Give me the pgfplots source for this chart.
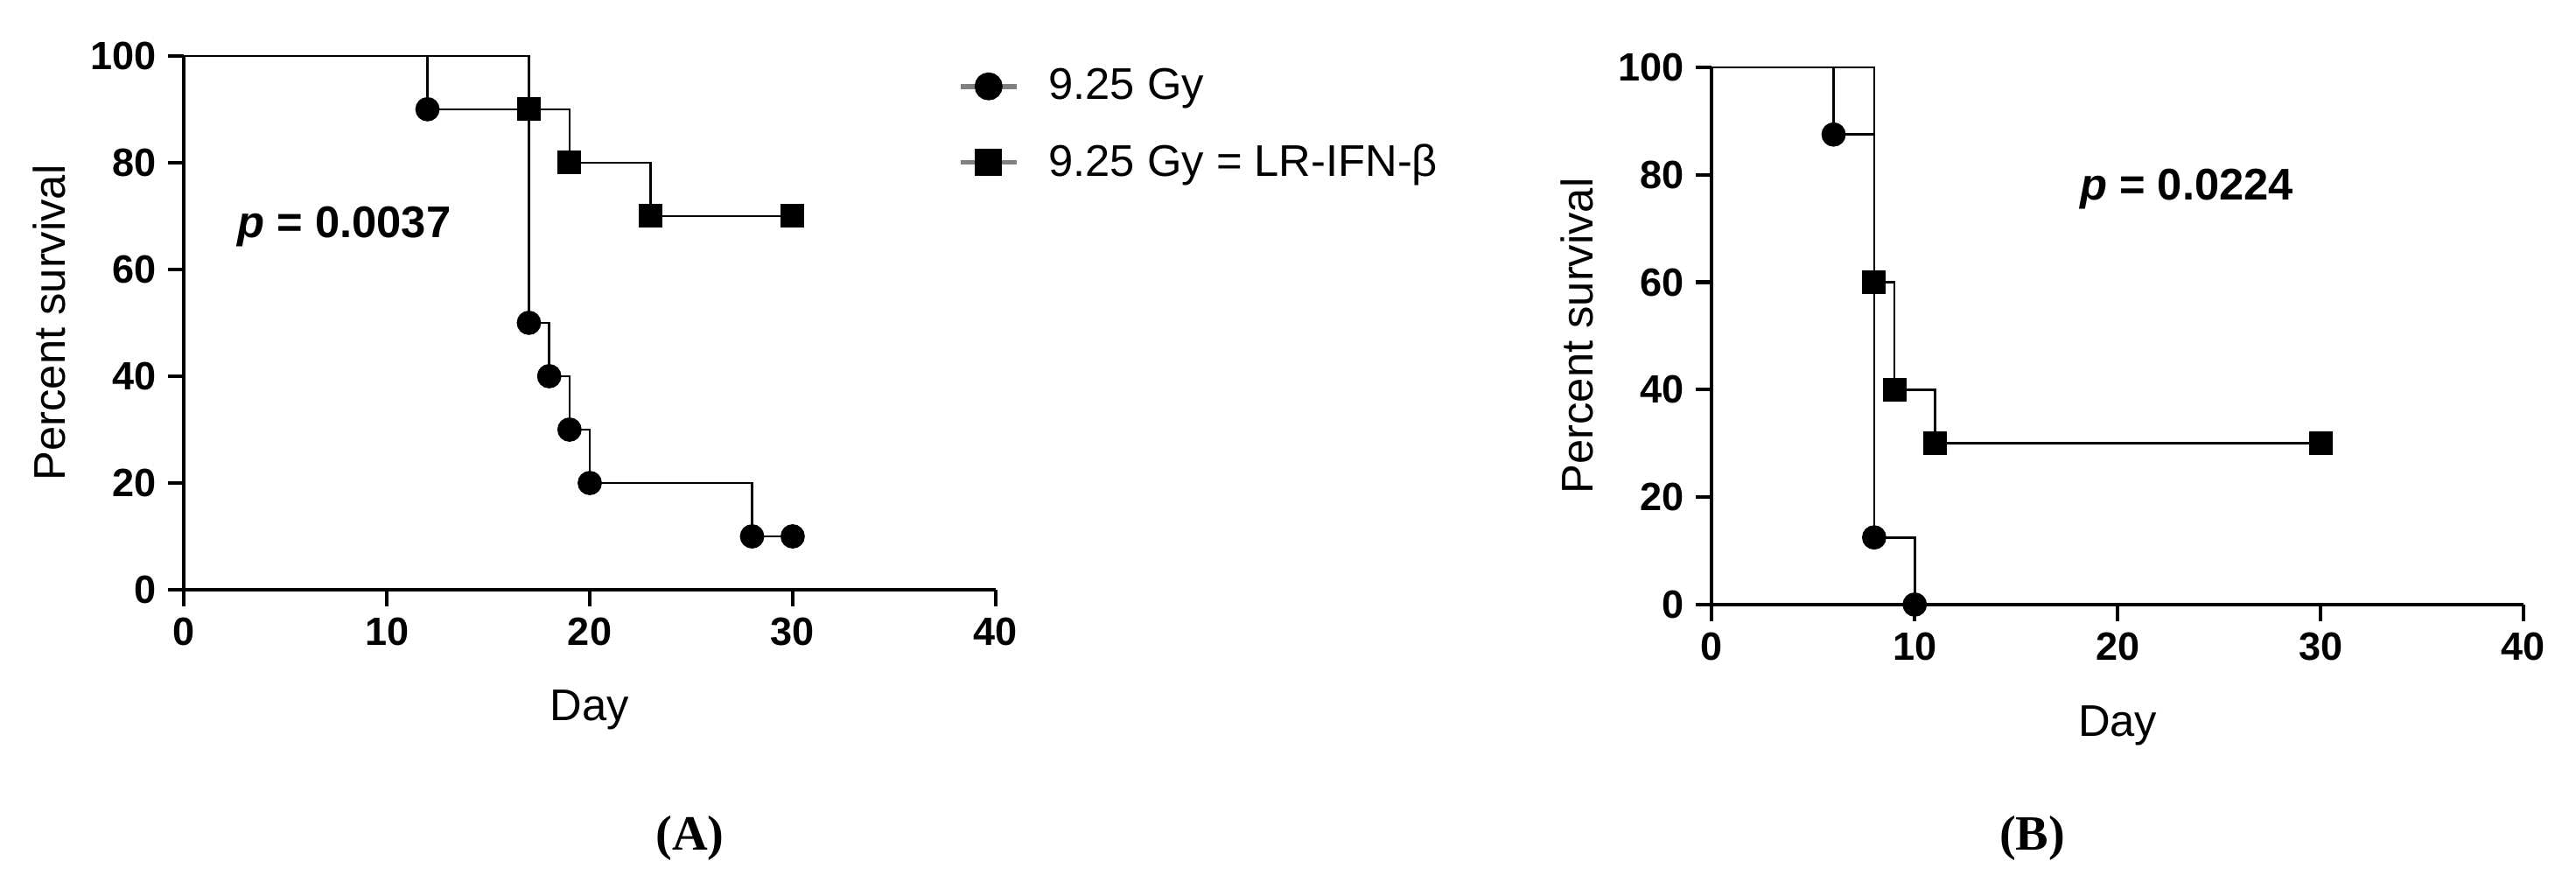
\documentclass[border=0pt]{standalone}
\usepackage{fontspec}
\setmainfont{Liberation Sans}
\newfontfamily\captionfont{Liberation Serif}
\usepackage{pgfplots}
\pgfplotsset{compat=1.18}

\pgfplotsset{
  km/.style={
    scale only axis, width=247pt,
    axis lines=left, axis line style={-, line width=1.1pt},
    xmin=0, xmax=40, ymin=0, ymax=100,
    xtick={0,10,20,30,40}, ytick={0,20,40,60,80,100},
    tick style={black, line width=1.1pt}, major tick length=5pt, tick align=outside,
    ticklabel style={font=\fontsize{12}{14}\selectfont\bfseries},
    /pgf/number format/assume math mode=true,
    xlabel={Day}, ylabel={Percent survival},
    every axis x label/.style={at={(axis description cs:0.5,-0.225)}, anchor=center,
      font=\fontsize{13.5}{16}\selectfont},
    every axis y label/.style={at={(axis description cs:-0.166,0.5)}, anchor=center, rotate=90,
      font=\fontsize{13.5}{16}\selectfont},
    clip=false,
  },
  step/.style={const plot, black, line width=0.7pt, no marks, forget plot},
  dots/.style={only marks, mark=*, mark size=3.5pt, black, forget plot},
  boxes/.style={only marks, mark=square*, mark size=3.4pt, black, forget plot},
}

\begin{document}
\begin{tikzpicture}
% ---- panel A
\begin{axis}[km, height=162.5pt, at={(0pt,0pt)}, anchor=south west,
    legend style={at={(axis description cs:0.953,0.99)}, anchor=north west,
      draw=none, fill=none, inner sep=0pt, row sep=8pt,
      font=\fontsize{13.5}{16}\selectfont,
      /tikz/every odd column/.append style={column sep=7pt}},
    legend cell align=left]
  % 9.25 Gy
  \addplot[step] coordinates {(0,100) (12,90) (17,50) (18,40) (19,30) (20,20) (28,10) (30,10)};
  \addplot[dots] coordinates {(12,90) (17,50) (18,40) (19,30) (20,20) (28,10) (30,10)};
  % 9.25 Gy = LR-IFN-beta
  \addplot[step] coordinates {(0,100) (17,90) (19,80) (23,70) (30,70)};
  \addplot[boxes] coordinates {(17,90) (19,80) (23,70) (30,70)};
  \addlegendimage{gray, line width=1.5pt, mark=*, mark options={black, fill=black, mark size=3.5pt}}
  \addlegendentry{9.25 Gy}
  \addlegendimage{gray, line width=1.5pt, mark=square*, mark options={black, fill=black, mark size=3.4pt}}
  \addlegendentry{9.25 Gy = LR-IFN-β}
  \node[font=\fontsize{13.5}{16}\selectfont\bfseries] at (axis cs:7.9,68) {\textit{p} = 0.0037};
\end{axis}
% ---- panel B
\begin{axis}[km, height=163.5pt, at={(465pt,-4.5pt)}, anchor=south west]
  \addplot[step] coordinates {(0,100) (6,87.5) (8,12.5) (10,0)};
  \addplot[dots] coordinates {(6,87.5) (8,12.5) (10,0)};
  \addplot[step] coordinates {(0,100) (8,60) (9,40) (11,30) (30,30)};
  \addplot[boxes] coordinates {(8,60) (9,40) (11,30) (30,30)};
  \node[font=\fontsize{13.5}{16}\selectfont\bfseries] at (axis cs:23.4,77.4) {\textit{p} = 0.0224};
\end{axis}
\node[font=\fontsize{15}{18}\selectfont\captionfont\bfseries] at (154pt,-75.5pt) {(A)};
\node[font=\fontsize{15}{18}\selectfont\captionfont\bfseries] at (562.5pt,-75.5pt) {(B)};
\path (-56pt,-93pt) rectangle (728pt,179.5pt);
\end{tikzpicture}
\end{document}
